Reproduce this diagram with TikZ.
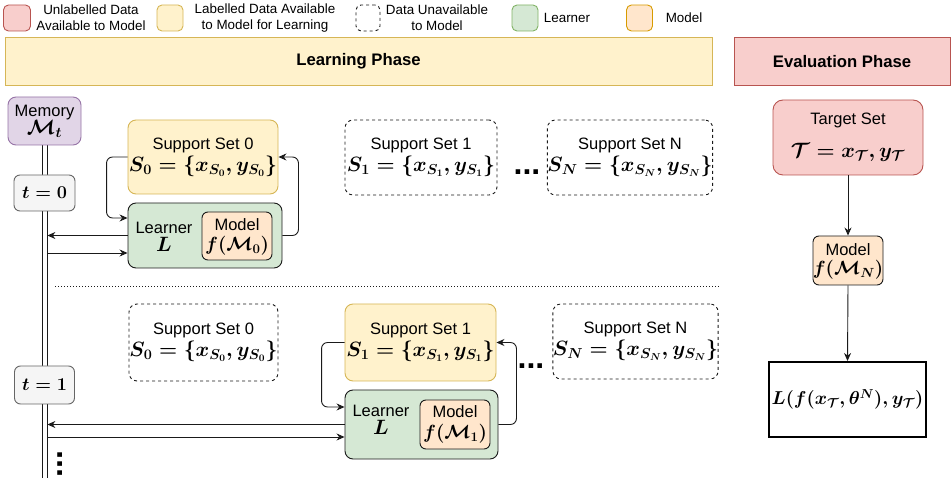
\documentclass[tikz,border=0pt]{standalone}
\usepackage{amsmath}
\usepackage{graphicx}
\usepackage[no-math]{fontspec}
\setmainfont{Liberation Sans}
\usetikzlibrary{arrows.meta}
\definecolor{redF}{HTML}{F8CECC}\definecolor{redD}{HTML}{B85450}
\definecolor{yelF}{HTML}{FFF2CC}\definecolor{yelD}{HTML}{D6B656}
\definecolor{grnF}{HTML}{D5E8D4}\definecolor{grnD}{HTML}{82B366}
\definecolor{orgF}{HTML}{FFE6CC}\definecolor{orgD}{HTML}{D79B00}
\definecolor{purF}{HTML}{E1D5E7}\definecolor{purD}{HTML}{9673A6}
\definecolor{gryF}{HTML}{F5F5F5}\definecolor{gryD}{HTML}{666666}
\definecolor{ink}{HTML}{1A1A1A}
\newcommand\mth[1]{{\fontsize{19.5}{22}\selectfont\boldmath$#1$}}
\newcommand\mthm[1]{\scalebox{0.92}{\mth{#1}}}
\newcommand\mths[1]{\scalebox{0.87}{\mth{#1}}}
\tikzset{
  box/.style={rectangle, rounded corners=8pt, inner sep=0pt, align=center, line width=0.9pt,
    font=\fontsize{16.5}{21}\selectfont\boldmath},
  sz/.style 2 args={minimum width=#1pt, minimum height=#2pt},
  sqbox/.style={box, rounded corners=0pt},
  legsq/.style={rectangle, rounded corners=5pt, inner sep=0pt, line width=0.9pt, minimum width=26pt, minimum height=26pt},
  legtxt/.style={inner sep=0pt, align=center, font=\fontsize{13.4}{16}\selectfont},
  yel/.style={fill=yelF, draw=yelD},
  red/.style={fill=redF, draw=redD},
  grn/.style={fill=grnF, draw=ink},
  org/.style={fill=orgF, draw=ink},
  unav/.style={fill=white, draw=ink, dash pattern=on 3pt off 3pt},
  tbox/.style={box, fill=gryF, draw=gryD, rounded corners=6pt},
  plain/.style={inner sep=0pt, align=center, font=\fontsize{16.5}{21}\selectfont\boldmath},
  arr/.style={-{Stealth[length=8pt,width=7pt]}, line width=0.9pt, draw=ink},
  loop/.style={arr, rounded corners=6pt},
  rail/.style={line width=0.9pt, draw=ink},
  dots/.style={inner sep=0pt, font=\fontsize{32}{32}\selectfont\bfseries},
  banner/.style={rectangle, inner sep=0pt, line width=0.9pt, font=\fontsize{16.7}{20}\selectfont\bfseries},
}
\begin{document}
\begin{tikzpicture}[x=1pt,y=-1pt]
\useasboundingbox (0,0) rectangle (951,478);
% legend
\node[legsq, red, minimum width=27pt] (lgR) at (17,18) {};
\node[legtxt] (lgRt) at (91,18) {Unlabelled Data\\Available to Model};
\node[legsq, yel] (lgY) at (170,18) {};
\node[legtxt] (lgYt) at (265,18) {Labelled Data Available\\to Model for Learning};
\node[legsq, unav, minimum width=24pt] (lgU) at (368,18) {};
\node[legtxt] (lgUt) at (437,18) {Data Unavailable\\to Model};
\node[legsq, fill=grnF, draw=grnD] (lgG) at (525,18) {};
\node[legtxt] (lgGt) at (567,18) {Learner};
\node[legsq, fill=orgF, draw=orgD] (lgO) at (639.5,18) {};
\node[legtxt] (lgOt) at (684,18) {Model};
% banners
\node[banner, yel, sz={707}{48}] (learn) at (358.5,61.5) {Learning Phase};
\node[banner, red, sz={216}{48}] (eval) at (842,61.5) {Evaluation Phase};
% memory rail (two parallel lines)
\coordinate (railLtop) at (42,145);
\coordinate (railRtop) at (47,145);
\coordinate (railLend) at (42,478);
\coordinate (railRend) at (47,478);
\draw[rail] (railLtop) -- (railLend);
\draw[rail] (railRtop) -- (railRend);
\node[box, fill=purF, draw=purD, sz={73}{48}] (mem) at (44.5,121) {Memory\\[-3pt]\mth{\mathcal{M}_t}};
\node[tbox, sz={61}{36}] (t0) at (44.5,193) {\mths{t=0}};
\node[tbox, sz={60}{38}] (t1) at (44.5,385) {\mths{t=1}};
% time step 0
\node[box, yel, sz={150}{74}] (ss0a) at (203,157) {Support Set 0\\[1pt]\mth{S_0=\{x_{S_0},y_{S_0}\}}};
\node[box, unav, sz={152}{75}] (ss1a) at (421,157.5) {Support Set 1\\[1pt]\mth{S_1=\{x_{S_1},y_{S_1}\}}};
\node[box, unav, sz={154}{75}] (ssNa) at (630,157.5) {Support Set N\\[1pt]\mth{S_N=\{x_{S_N},y_{S_N}\}}};
\node[dots] (dotsA) at (527,172) {...};
\node[box, grn, sz={154}{65}] (L0) at (205,235.5) {};
\node[plain] (L0t) at (164,237) {Learner\\[-3pt]\mth{L}};
\node[box, org, rounded corners=6pt, sz={70}{48}] (M0) at (237,236) {};
\node[plain] (M0a) at (237,225) {Model};
\node[plain] (M0b) at (237,246) {\mthm{f(\mathcal{M}_0)}};
\draw[loop] (ss0a.west) -- ++(-21,0) |- ([yshift=17.5pt]L0.west);
\draw[loop] (L0.east) -- ++(16,0) |- (ss0a.east);
\coordinate (m0in) at (47.4,235.5);
\coordinate (m0out) at (47,253);
\draw[arr] (L0.west) -- (m0in);
\draw[arr] (m0out) -- (L0.west |- m0out);
% separator
\coordinate (sepA) at (55,286.5);
\coordinate (sepB) at (720,286.5);
\draw[line width=0.9pt, draw=ink, dash pattern=on 1pt off 2pt] (sepA) -- (sepB);
% time step 1
\node[box, unav, sz={149}{77}] (ss0b) at (203.5,342.5) {Support Set 0\\[1pt]\mth{S_0=\{x_{S_0},y_{S_0}\}}};
\node[box, yel, sz={151}{77}] (ss1b) at (420.5,342.5) {Support Set 1\\[1pt]\mth{S_1=\{x_{S_1},y_{S_1}\}}};
\node[box, unav, sz={154}{75}] (ssNb) at (635.5,341.5) {Support Set N\\[1pt]\mth{S_N=\{x_{S_N},y_{S_N}\}}};
\node[dots] (dotsB) at (531,366) {...};
\node[box, grn, sz={153}{69}] (L1) at (421.5,424.5) {};
\node[plain] (L1t) at (381,420) {Learner\\[-3pt]\mth{L}};
\node[box, org, rounded corners=6pt, sz={70}{49}] (M1) at (455,424.5) {};
\node[plain] (M1a) at (455,412) {Model};
\node[plain] (M1b) at (455,434) {\mthm{f(\mathcal{M}_1)}};
\draw[loop] (ss1b.west) -- ++(-23,0) |- ([yshift=17.5pt]L1.west);
\draw[loop] (L1.east) -- ++(18,0) |- (ss1b.east);
\coordinate (m1in) at (47.4,424.5);
\coordinate (m1out) at (47,437);
\draw[arr] (L1.west) -- (m1in);
\draw[arr] (m1out) -- (L1.west |- m1out);
\node[dots, rotate=90] (vdots) at (60,464) {...};
% evaluation
\node[box, red, rounded corners=10pt, sz={150}{75}] (tgt) at (848,137.5) {Target Set\\[12pt]\mth{\mathcal{T}=x_{\mathcal{T}},y_{\mathcal{T}}}};
\node[box, org, rounded corners=6pt, sz={70}{49}] (MN) at (848,260.5) {};
\node[plain] (MNa) at (848,250) {Model};
\node[plain] (MNb) at (848,270) {\mthm{f(\mathcal{M}_N)}};
\node[sqbox, fill=white, draw=black, line width=2pt, sz={157}{75}] (loss) at (847.5,399.5) {\scalebox{0.9}{\mth{L(f(x_{\mathcal{T}},\theta^N),y_{\mathcal{T}})}}};
\draw[arr] (tgt.south) -- (MN.north);
\draw[arr] (MN.south) -- (loss.north);
\end{tikzpicture}
\end{document}
